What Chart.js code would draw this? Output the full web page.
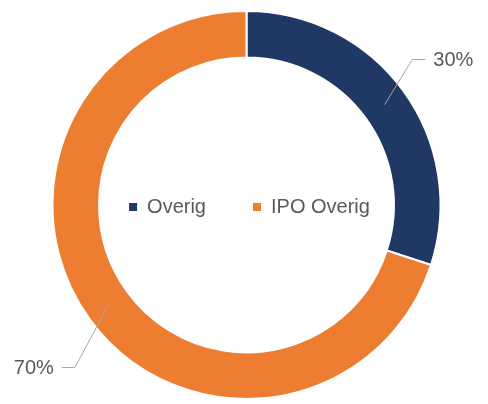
<!DOCTYPE html>
<html>
<head>
<meta charset="utf-8">
<script src="https://cdn.jsdelivr.net/npm/chart.js@4/dist/chart.umd.min.js"></script>
<style>
  html, body { margin: 0; padding: 0; background: #fff; }
  #wrap { width: 488px; height: 404px; }
</style>
</head>
<body>
<div id="wrap"><canvas id="chart"></canvas></div>
<script>
const categories = ['Overig', 'IPO Overig'];
const shares = [30, 70];
const colors = ['#203864', '#ED7D31'];

const textColor = '#595959';
const fontFamily = '"Liberation Sans", Arial, sans-serif';

// percentage labels with leader lines
const leaderLabels = {
  id: 'leaderLabels',
  afterDatasetsDraw(chart) {
    const ctx = chart.ctx;
    const meta = chart.getDatasetMeta(0);
    const data = chart.data.datasets[0].data;
    const total = data.reduce((a, b) => a + b, 0);
    ctx.save();
    meta.data.forEach((arc, i) => {
      const p = arc.getProps(['x', 'y', 'startAngle', 'endAngle', 'innerRadius', 'outerRadius'], true);
      const a = (p.startAngle + p.endAngle) / 2;
      const rm = (p.innerRadius + p.outerRadius) / 2;
      const sx = p.x + Math.cos(a) * rm;
      const sy = p.y + Math.sin(a) * rm;
      const side = Math.cos(a) >= 0 ? 1 : -1;
      // right-hand labels sit a bit closer than left ones
      const ex = p.x + side * (side > 0 ? 0.855 : 0.885) * p.outerRadius;
      const ey = p.y + (sy - p.y) * (side > 0 ? 1.45 : 1.62);
      const hx = ex + side * 13;
      ctx.strokeStyle = '#a6a6a6';
      ctx.lineWidth = 1;
      ctx.beginPath();
      ctx.moveTo(sx, sy);
      ctx.lineTo(ex, ey);
      ctx.lineTo(hx, ey);
      ctx.stroke();
      ctx.fillStyle = textColor;
      ctx.font = '20px ' + fontFamily;
      ctx.textBaseline = 'middle';
      ctx.textAlign = side > 0 ? 'left' : 'right';
      ctx.fillText(Math.round(data[i] / total * 100) + '%', hx + side * 8, ey + 1);
    });
    ctx.restore();
  }
};

// legend drawn in the hole of the doughnut
const centerLegend = {
  id: 'centerLegend',
  afterDraw(chart) {
    const ctx = chart.ctx;
    const arc = chart.getDatasetMeta(0).data[0];
    const cx = arc.x + 3, cy = arc.y + 2;
    const box = 8, gap = 10, itemGap = 47;
    ctx.save();
    ctx.font = '20px ' + fontFamily;
    const widths = chart.data.labels.map(l => ctx.measureText(l).width);
    const total = widths.reduce((s, w) => s + box + gap + w, 0) + itemGap * (widths.length - 1);
    let x = cx - total / 2;
    ctx.textBaseline = 'middle';
    ctx.textAlign = 'left';
    chart.data.labels.forEach((label, i) => {
      ctx.fillStyle = chart.data.datasets[0].backgroundColor[i];
      ctx.fillRect(x, cy - box / 2, box, box);
      x += box + gap;
      ctx.fillStyle = textColor;
      ctx.fillText(label, x, cy);
      x += widths[i] + itemGap;
    });
    ctx.restore();
  }
};

new Chart(document.getElementById('chart'), {
  type: 'doughnut',
  data: {
    labels: categories,
    datasets: [{
      data: shares,
      backgroundColor: colors,
      borderColor: '#ffffff',
      borderWidth: 2
    }]
  },
  options: {
    responsive: true,
    maintainAspectRatio: false,
    animation: false,
    cutout: '76%',
    layout: {
      padding: { top: 10, bottom: 4, left: 5, right: 0 }
    },
    plugins: {
      legend: { display: false },
      tooltip: { enabled: false }
    }
  },
  plugins: [leaderLabels, centerLegend]
});
</script>
</body>
</html>
